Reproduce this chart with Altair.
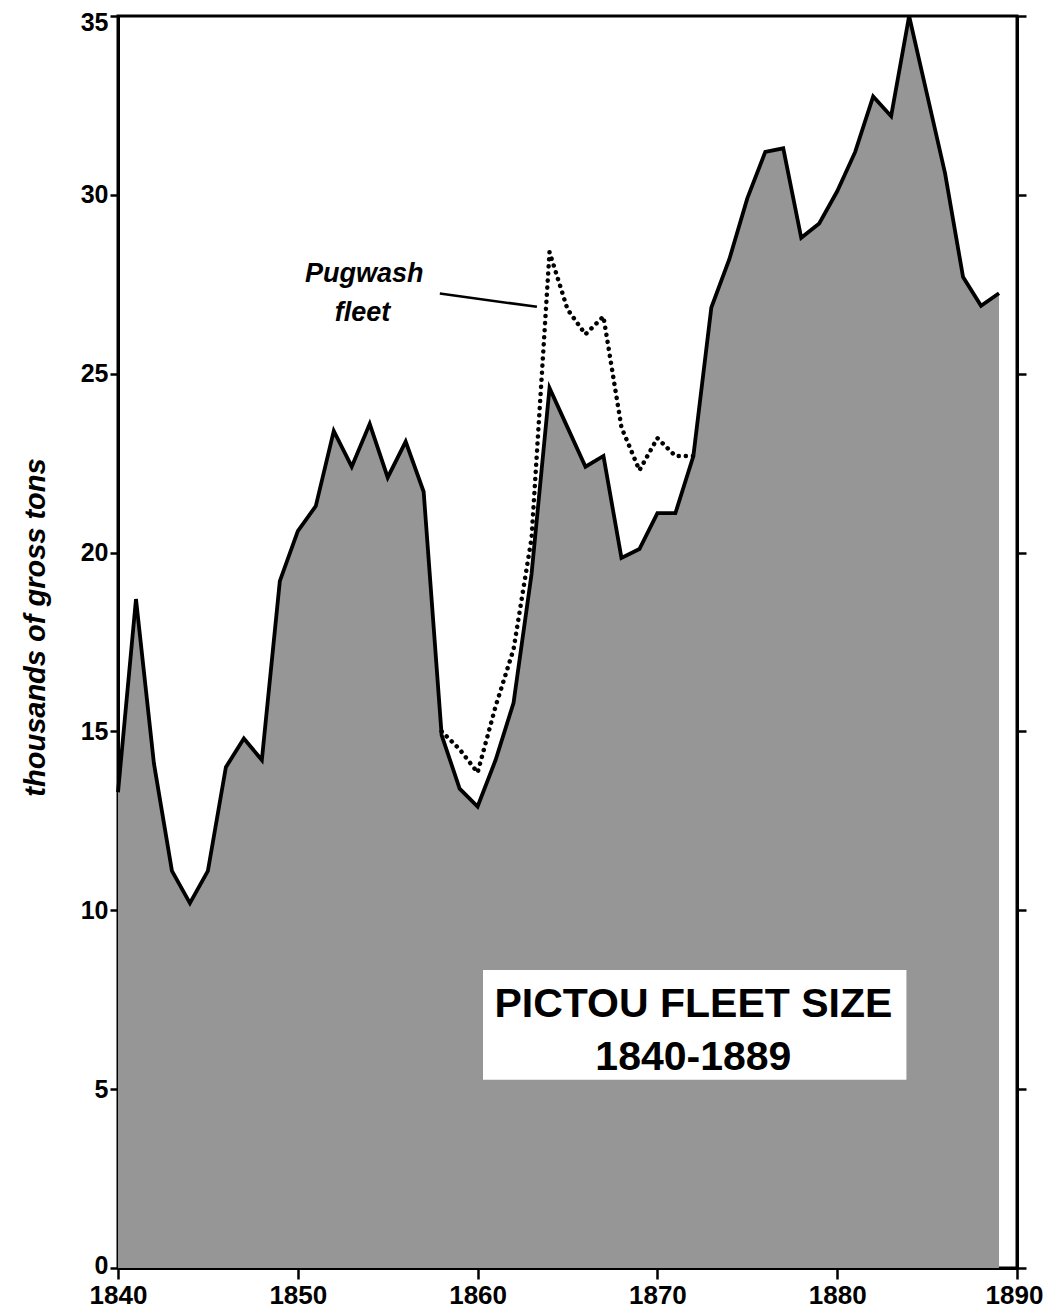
import altair as alt
import pandas as pd

# ---- data ----
years = list(range(1840, 1890))
pictou = [13.3, 18.7, 14.1, 11.1, 10.2, 11.1, 14.0, 14.8, 14.2, 19.2,
          20.6, 21.3, 23.4, 22.4, 23.6, 22.1, 23.1, 21.7, 14.9, 13.4,
          12.9, 14.2, 15.8, 19.4, 24.6, 23.5, 22.4, 22.7, 19.85, 20.1,
          21.1, 21.1, 22.7, 26.85, 28.2, 29.9, 31.2, 31.3, 28.8, 29.2,
          30.1, 31.2, 32.75, 32.2, 35.0, 32.8, 30.6, 27.7, 26.9, 27.25]

pug_years = list(range(1858, 1873))
pugwash = [15.0, 14.5, 13.85, 15.7, 17.3, 20.4, 28.4, 26.8, 26.1, 26.6,
           23.5, 22.3, 23.2, 22.7, 22.7]

y_ticks = [0, 5, 10, 15, 20, 25, 30, 35]
x_ticks = [1840, 1850, 1860, 1870, 1880, 1890]

y_title = "thousands of gross tons"

box_lines = ["PICTOU FLEET SIZE", "1840-1889"]
box_line_x = [1872.0, 1872.0]
box_line_y = [7.36, 5.88]
box_x = [1860.3, 1883.85]
box_y = [5.26, 8.33]

label_lines = ["Pugwash", "fleet"]
label_x = [1853.7, 1853.6]
label_y = [27.8, 26.7]
leader_x = [1857.9, 1863.3]
leader_y = [27.24, 26.87]

FONT = "Liberation Sans"

main_df = pd.DataFrame({"year": years, "tons": pictou})
pug_df = pd.DataFrame({"year": pug_years, "tons": pugwash})
box_df = pd.DataFrame({"x": [box_x[0]], "x2": [box_x[1]], "y": [box_y[0]], "y2": [box_y[1]]})
box_text_df = pd.DataFrame({"x": box_line_x, "y": box_line_y, "t": box_lines})
label_df = pd.DataFrame({"x": label_x, "y": label_y, "t": label_lines})
leader_df = pd.DataFrame({"x": [leader_x[0]], "x2": [leader_x[1]],
                          "y": [leader_y[0]], "y2": [leader_y[1]]})

xs = alt.Scale(domain=[1840, 1890], nice=False, zero=False)
ys = alt.Scale(domain=[0, 35], nice=False)

x_axis = alt.Axis(values=x_ticks, format="d", title=None, grid=False,
                  tickSize=11, tickWidth=2.5, tickColor="black",
                  domainWidth=3, domainColor="black", labelFlush=False,
                  labelOffset={"condition": {"test": "datum.value == 1890", "value": -3},
                               "value": 0},
                  labelPadding=3, labelFontSize=26, labelFontWeight="bold",
                  labelColor="black", labelFont=FONT)

y_left = alt.Axis(values=y_ticks, title=y_title, grid=False,
                  tickSize=8, tickWidth=2.5, tickColor="black",
                  domainWidth=3, domainColor="black", labelFlush=False,
                  labelOffset={"condition": [
                      {"test": "datum.value == 35", "value": 6},
                      {"test": "datum.value == 0", "value": -3}],
                      "value": 0},
                  labelPadding=2, labelFontSize=25, labelFontWeight="bold",
                  labelColor="black", labelFont=FONT,
                  titleFont=FONT, titleFontSize=29, titleFontWeight="bold",
                  titleFontStyle="italic", titleColor="black",
                  titleAngle=-90, titleX=-83, titleY=611,
                  titleAlign="center", titleBaseline="middle")

y_right = alt.Axis(orient="right", values=y_ticks, title=None, grid=False,
                   labels=False, tickSize=9, tickWidth=2.5, tickColor="black",
                   domainWidth=3, domainColor="black")

area = alt.Chart(main_df).mark_area(color="#969696", opacity=1).encode(
    x=alt.X("year:Q", scale=xs, axis=x_axis),
    y=alt.Y("tons:Q", scale=ys, axis=y_left),
)

main_line = alt.Chart(main_df).mark_line(
    color="black", strokeWidth=3.8, strokeJoin="miter"
).encode(
    x=alt.X("year:Q", scale=xs, axis=x_axis),
    y=alt.Y("tons:Q", scale=ys, axis=y_right),
)

pug_line = alt.Chart(pug_df).mark_line(
    color="black", strokeWidth=4.5, strokeDash=[0.1, 7], strokeCap="round"
).encode(
    x=alt.X("year:Q", scale=xs, axis=x_axis),
    y=alt.Y("tons:Q", scale=ys, axis=None),
)

box = alt.Chart(box_df).mark_rect(color="white", opacity=1).encode(
    x=alt.X("x:Q", scale=xs, axis=x_axis),
    x2="x2:Q",
    y=alt.Y("y:Q", scale=ys, axis=None),
    y2="y2:Q",
)

box_text = alt.Chart(box_text_df).mark_text(
    font=FONT, fontSize=41, fontWeight="bold", color="black",
    align="center", baseline="middle"
).encode(
    x=alt.X("x:Q", scale=xs, axis=x_axis),
    y=alt.Y("y:Q", scale=ys, axis=None),
    text="t:N",
)

label_text = alt.Chart(label_df).mark_text(
    font=FONT, fontSize=27, fontWeight="bold", fontStyle="italic",
    color="black", align="center", baseline="middle"
).encode(
    x=alt.X("x:Q", scale=xs, axis=x_axis),
    y=alt.Y("y:Q", scale=ys, axis=None),
    text="t:N",
)

leader = alt.Chart(leader_df).mark_rule(color="black", strokeWidth=2.5).encode(
    x=alt.X("x:Q", scale=xs, axis=x_axis),
    x2="x2:Q",
    y=alt.Y("y:Q", scale=ys, axis=None),
    y2="y2:Q",
)

chart = alt.layer(
    area, pug_line, main_line, box, box_text, label_text, leader
).resolve_axis(y="independent").properties(
    width=899, height=1252,
    autosize=alt.AutoSizeParams(type="none"),
    padding={"left": 110, "top": 8, "right": 27, "bottom": 44},
    background="white",
).configure_view(stroke="black", strokeWidth=3)

chart.save("out.html", embed_options={"renderer": "svg", "actions": False})
